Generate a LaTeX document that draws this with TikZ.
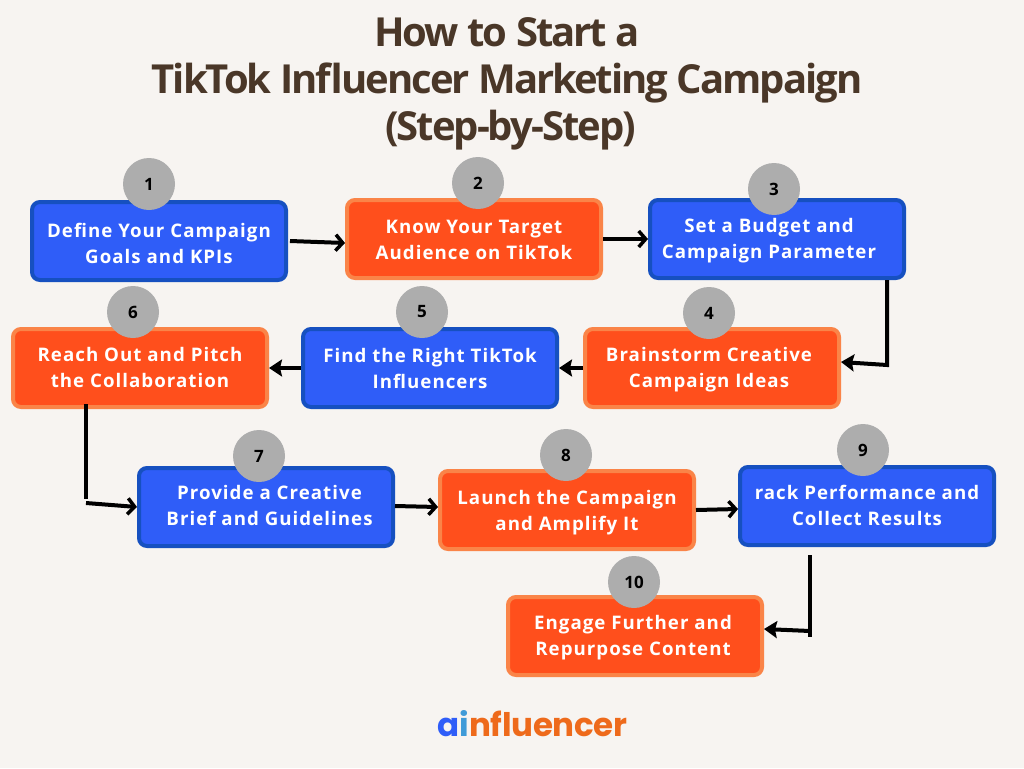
\documentclass[tikz,border=0pt]{standalone}
\usepackage{fontspec}
\usetikzlibrary{arrows.meta}
\usetikzlibrary{positioning}
\usetikzlibrary{calc}
\setmainfont{Open Sans}
\newfontfamily\titlefont[LetterSpace=-5]{Open Sans}
\newfontfamily\boxfont[LetterSpace=5.5]{Open Sans}
\newfontfamily\logofont[LetterSpace=-1]{Poppins}
\definecolor{paper}{HTML}{F7F4F1}
\definecolor{titlebrown}{HTML}{4A3728}
\definecolor{bluefill}{HTML}{2F5DF8}
\definecolor{blueedge}{HTML}{1650C0}
\definecolor{orangefill}{HTML}{FF4F1C}
\definecolor{orangeedge}{HTML}{FA8448}
\definecolor{badgegrey}{HTML}{ADADAD}
\definecolor{logoorange}{HTML}{EE6A1B}
\definecolor{logoblue}{HTML}{3F9BD8}
\tikzset{
    stepbox/.style={rounded corners=8pt, line width=4pt, minimum width=254pt, minimum height=78pt},
    steptext/.style={align=center, text=white, inner sep=0pt, font=\boxfont\fontsize{18.7}{26}\selectfont\bfseries},
    bluebox/.style={stepbox, draw=blueedge, fill=bluefill},
    orangebox/.style={stepbox, draw=orangeedge, fill=orangefill},
    badge/.style={circle, fill=badgegrey, minimum size=52pt, inner sep=0pt,
        font=\fontsize{17}{20}\selectfont\bfseries},
    flowline/.style={line width=4pt},
    flow/.style={flowline, -{Straight Barb[length=7pt,width=16pt,line width=3.5pt]}},
    flowfill/.style={flowline, -{Stealth[length=13pt,width=17pt,inset=2pt]}}
}
\begin{document}
\begin{tikzpicture}[x=1pt,y=-1pt]

    \fill[paper] (0,0) rectangle (1024,768);
    \useasboundingbox (0,0) rectangle (1024,768);

    \node[text=titlebrown, align=center, font=\titlefont\fontsize{40}{47}\selectfont\bfseries] (title) at (507,83.5)
        {How to Start a\\TikTok Influencer Marketing Campaign\\\hspace*{7pt}(Step-by-Step)};

    \node[bluebox, label={[steptext, yshift=-2pt]center:{Define Your Campaign\\Goals and KPIs}}] (s_1) at (159,241) {};
    \node[orangebox, label={[steptext, yshift=-1pt]center:{Know Your Target\\Audience on TikTok}}] (s_2) at (474,239) {};
    \node[bluebox, label={[steptext, xshift=-8pt, yshift=-2pt]center:{Set a Budget and\\Campaign Parameter}}] (s_3) at (777,239) {};
    \node[orangebox, label={[steptext, xshift=-3pt, yshift=-2pt]center:{Brainstorm Creative\\Campaign Ideas}}] (s_4) at (712,368) {};
    \node[bluebox, label={[steptext]center:{Find the Right TikTok\\Influencers}}] (s_5) at (430,368) {};
    \node[orangebox, label={[steptext, yshift=1pt]center:{Reach Out and Pitch\\the Collaboration}}] (s_6) at (140,368) {};
    \node[bluebox, label={[steptext, xshift=3.5pt, yshift=2pt]center:{Provide a Creative\\Brief and Guidelines}}] (s_7) at (266,507) {};
    \node[orangebox, label={[steptext, yshift=-3pt]center:{Launch the Campaign\\and Amplify It}}] (s_8) at (567,510) {};
    \node[bluebox, label={[steptext, yshift=1pt]center:{rack Performance and\\Collect Results}}] (s_9) at (867,506) {};
    \node[orangebox, label={[steptext, xshift=-2pt, yshift=-2pt]center:{Engage Further and\\Repurpose Content}}] (s_10) at (635,636) {};

    \node[badge] (b_1) at (149,184) {1};
    \node[badge] (b_2) at (478,183) {2};
    \node[badge] (b_3) at (774,189) {3};
    \node[badge] (b_4) at (709,313) {4};
    \node[badge] (b_5) at (422,312) {5};
    \node[badge] (b_6) at (133,312) {6};
    \node[badge] (b_7) at (259,456) {7};
    \node[badge] (b_8) at (566,455) {8};
    \node[badge] (b_9) at (863,450) {9};
    \node[badge] (b_10) at (634,582) {10};

    \coordinate (c_34) at (887,365);
    \coordinate (c_67a) at (86,499);
    \coordinate (c_67b) at (86,503);
    \coordinate (c_910a) at (810,637);
    \coordinate (c_910b) at (810,631);

    \draw[flow] ([xshift=2pt]s_1.east) -- ([yshift=-4pt]s_2.west);
    \draw[flow] (s_2.east) -- (s_3.west);
    \draw[flowfill] (s_3.south -| c_34) -- (c_34) -- ([yshift=6pt]s_4.east);
    \draw[flowfill] (s_4.west) -- (s_5.east);
    \draw[flowfill] (s_5.west) -- (s_6.east);
    \draw[flowline] ([yshift=5pt]s_6.south -| c_67a) -- (c_67a);
    \draw[flow] (c_67b) -- (s_7.west);
    \draw[flow] ([yshift=1pt]s_7.east) -- ([yshift=3pt]s_8.west);
    \draw[flow] (s_8.east) -- ([yshift=-3pt]s_9.west);
    \draw[flowline] ([yshift=-8pt]s_9.south -| c_910a) -- (c_910a);
    \draw[flowfill] (c_910b) -- ([yshift=7pt]s_10.east);

    \node[font=\logofont\fontsize{32.5}{36}\selectfont\bfseries, text=logoorange] (logo) at (532.5,724)
        {\textcolor{bluefill}{a}\textcolor{logoblue}{i}nfluencer};

\end{tikzpicture}
\end{document}
